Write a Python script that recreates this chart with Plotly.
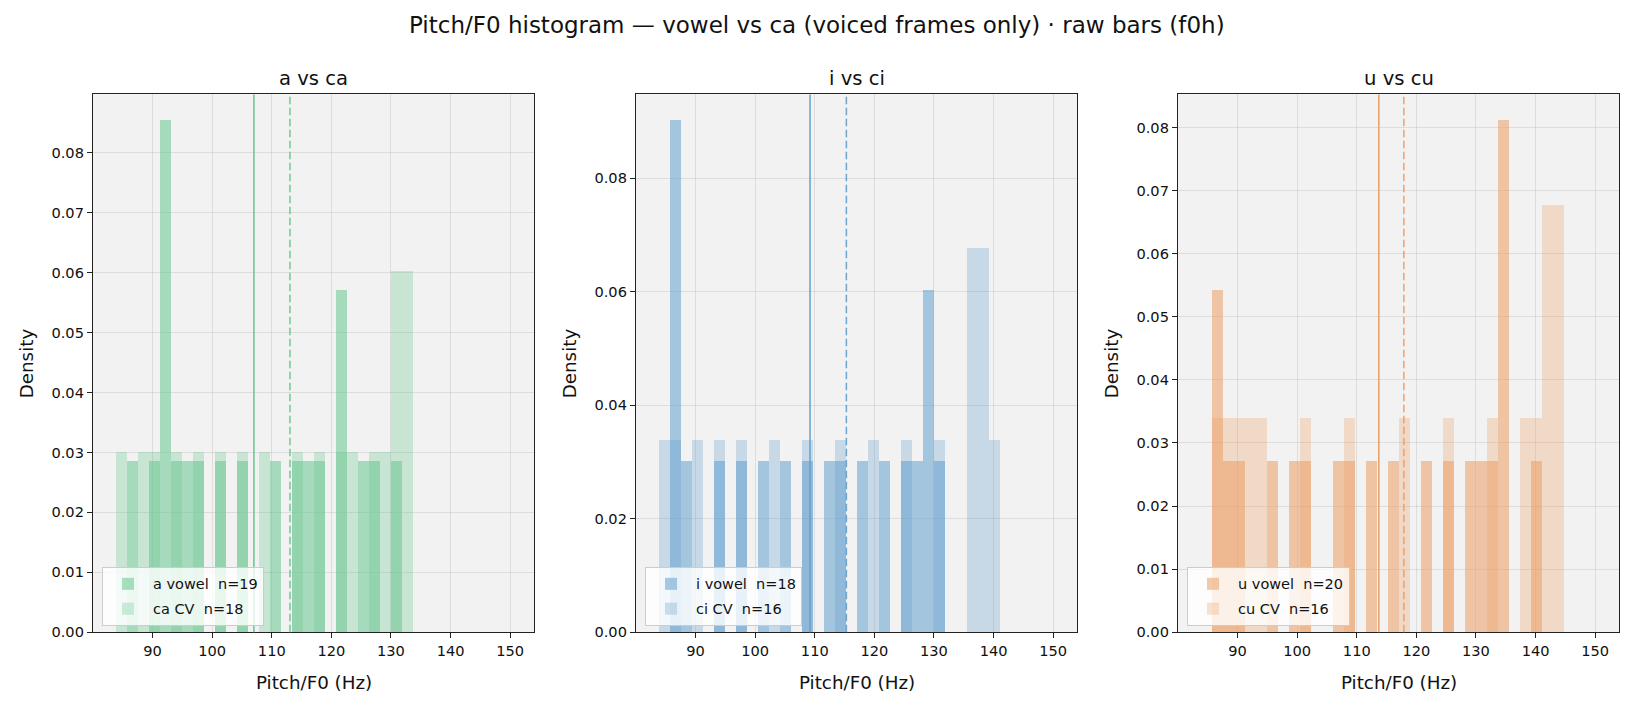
import plotly.graph_objects as go

# ---------------- data ----------------
BIN_START = 83.8      # Hz, left edge of first shared bin
BIN_WIDTH = 1.847     # Hz

PANEL_TITLES = ["a vs ca", "i vs ci", "u vs cu"]
VOWEL_LABELS = ["a vowel", "i vowel", "u vowel"]
CV_LABELS = ["ca CV", "ci CV", "cu CV"]

# counts per bin (bin k spans BIN_START + k*BIN_WIDTH ... +BIN_WIDTH)
A_VOWEL_COUNTS = [0, 1, 0, 1, 3, 1, 1, 1, 0, 1, 0, 1, 0, 0, 1, 0, 1, 1, 1, 0, 2, 0, 1, 1, 0, 1, 0]
CA_CV_COUNTS = [1, 0, 1, 1, 0, 1, 0, 1, 0, 1, 0, 1, 0, 1, 0, 0, 1, 0, 1, 0, 1, 1, 0, 1, 1, 2, 2]

I_VOWEL_COUNTS = [0, 3, 1, 0, 0, 1, 0, 1, 0, 1, 0, 1, 0, 1, 0, 1, 1, 0, 1, 0, 1, 0, 1, 1, 2, 1, 0, 0, 0, 0, 0]
CI_CV_COUNTS = [1, 1, 0, 1, 0, 1, 0, 1, 0, 0, 1, 0, 0, 1, 0, 0, 1, 0, 0, 1, 0, 0, 1, 0, 0, 1, 0, 0, 2, 2, 1]

U_VOWEL_COUNTS = [0, 2, 1, 1, 0, 0, 1, 0, 1, 1, 0, 0, 1, 1, 0, 1, 0, 1, 0, 0, 1, 0, 1, 0, 1, 1, 1, 3, 0, 0, 1, 0, 0]
CU_CV_COUNTS = [0, 1, 1, 1, 1, 1, 0, 0, 0, 1, 0, 0, 0, 1, 0, 0, 0, 0, 1, 0, 0, 0, 1, 0, 0, 0, 1, 0, 0, 1, 1, 2, 2]

VOWEL_MEANS = [107.0, 109.2, 113.7]
CV_MEANS = [113.05, 115.3, 117.9]

X_TICKS = [90, 100, 110, 120, 130, 140, 150]
Y_TICK_STEPS = [0.01, 0.02, 0.01]

# ---------------- style ----------------
COLORS = [(104, 198, 144), (100, 160, 205), (236, 158, 100)]
VOWEL_ALPHA = 0.55
CV_ALPHA = 0.30
FONT = "DejaVu Sans"
W, H = 1634, 715

AX_LEFT = [93, 636, 1178]
AX_W = 441
AX_TOP, AX_BOTTOM = 95.5, 639.3

vowel_sets = [A_VOWEL_COUNTS, I_VOWEL_COUNTS, U_VOWEL_COUNTS]
cv_sets = [CA_CV_COUNTS, CI_CV_COUNTS, CU_CV_COUNTS]


def rgba(c, a):
    return f"rgba({c[0]},{c[1]},{c[2]},{a})"


def density(counts):
    n = sum(counts)
    return [c / (n * BIN_WIDTH) for c in counts], n


fig = go.Figure()
annotations = []
shapes = []
layout = {}

for i in range(3):
    xa = "x" if i == 0 else f"x{i+1}"
    ya = "y" if i == 0 else f"y{i+1}"
    lg = "legend" if i == 0 else f"legend{i+1}"
    col = COLORS[i]
    ymax = 0
    for j, (counts, label, alpha) in enumerate(((vowel_sets[i], VOWEL_LABELS[i], VOWEL_ALPHA),
                                                (cv_sets[i], CV_LABELS[i], CV_ALPHA))):
        dens, n = density(counts)
        centers = [BIN_START + (k + 0.5) * BIN_WIDTH for k in range(len(counts))]
        ymax = max(ymax, max(dens))
        fig.add_trace(go.Bar(
            x=centers, y=dens, width=[BIN_WIDTH] * len(counts),
            marker=dict(color=rgba(col, alpha), line=dict(width=0)),
            name=f"{label}\u00a0\u00a0n={n}", xaxis=xa, yaxis=ya, legend=lg,
            legendgroup=f"g{i}{j}", hoverinfo="skip",
        ))
    ymax *= 1.05

    x0 = AX_LEFT[i] / W
    x1 = (AX_LEFT[i] + AX_W) / W
    y0 = 1 - AX_BOTTOM / H
    y1 = 1 - AX_TOP / H
    axis_common = dict(
        showline=True, mirror=True, linecolor="#222222", linewidth=1.3,
        ticks="outside", ticklen=5, tickwidth=1.2, tickcolor="#222222",
        showgrid=True, gridcolor="rgba(0,0,0,0.085)", gridwidth=1,
        zeroline=False, tickfont=dict(family=FONT, size=14.6, color="#111111"),
    )
    layout["xaxis" if i == 0 else f"xaxis{i+1}"] = dict(
        domain=[x0, x1], anchor=ya, range=[80, 154], tickvals=X_TICKS, **axis_common)
    layout["yaxis" if i == 0 else f"yaxis{i+1}"] = dict(
        domain=[y0, y1], anchor=xa, range=[0, ymax], dtick=Y_TICK_STEPS[i],
        tick0=0, tickformat=".2f", **axis_common)
    layout[lg] = dict(
        x=(AX_LEFT[i] + 9) / W, y=1 - 633 / H, xanchor="left", yanchor="bottom",
        bgcolor="rgba(255,255,255,0.8)", bordercolor="#cccccc", borderwidth=1,
        font=dict(family=FONT, size=14.5, color="#111111"), tracegroupgap=3,
        itemwidth=40,
    )

    # mean lines
    shapes.append(dict(type="line", xref=xa, yref=f"{ya} domain", x0=VOWEL_MEANS[i], x1=VOWEL_MEANS[i],
                       y0=0, y1=1, line=dict(color=rgba(col, 0.95), width=1.6)))
    shapes.append(dict(type="line", xref=xa, yref=f"{ya} domain", x0=CV_MEANS[i], x1=CV_MEANS[i],
                       y0=0, y1=1, line=dict(color=rgba(col, 0.95), width=1.5, dash="7.5px,3.5px")))

    cx = (AX_LEFT[i] + AX_W / 2) / W
    annotations.append(dict(text=PANEL_TITLES[i], x=cx, y=1 - 79 / H, xref="paper", yref="paper",
                            xanchor="center", yanchor="middle", showarrow=False,
                            font=dict(family=FONT, size=19.6, color="#111111")))
    annotations.append(dict(text="Pitch/F0 (Hz)", x=cx, y=1 - 690 / H, xref="paper", yref="paper",
                            xanchor="center", yanchor="middle", showarrow=False,
                            font=dict(family=FONT, size=18.3, color="#111111")))
    annotations.append(dict(text="Density", x=(AX_LEFT[i] - 67) / W, y=1 - (AX_TOP + AX_BOTTOM) / 2 / H,
                            xref="paper", yref="paper", xanchor="center", yanchor="middle",
                            textangle=-90, showarrow=False,
                            font=dict(family=FONT, size=18.3, color="#111111")))

annotations.append(dict(text="Pitch/F0 histogram \u2014 vowel vs ca (voiced frames only) \u00b7 raw bars (f0h)",
                        x=0.5, y=1 - 25 / H, xref="paper", yref="paper", xanchor="center",
                        yanchor="middle", showarrow=False,
                        font=dict(family=FONT, size=23, color="#111111")))

fig.update_layout(
    width=W, height=H, margin=dict(l=0, r=0, t=0, b=0),
    paper_bgcolor="white", plot_bgcolor="#f2f2f2",
    barmode="overlay", bargap=0, showlegend=True,
    annotations=annotations, shapes=shapes,
    font=dict(family=FONT, color="#111111"),
    **layout,
)

fig.write_html("out.html")
